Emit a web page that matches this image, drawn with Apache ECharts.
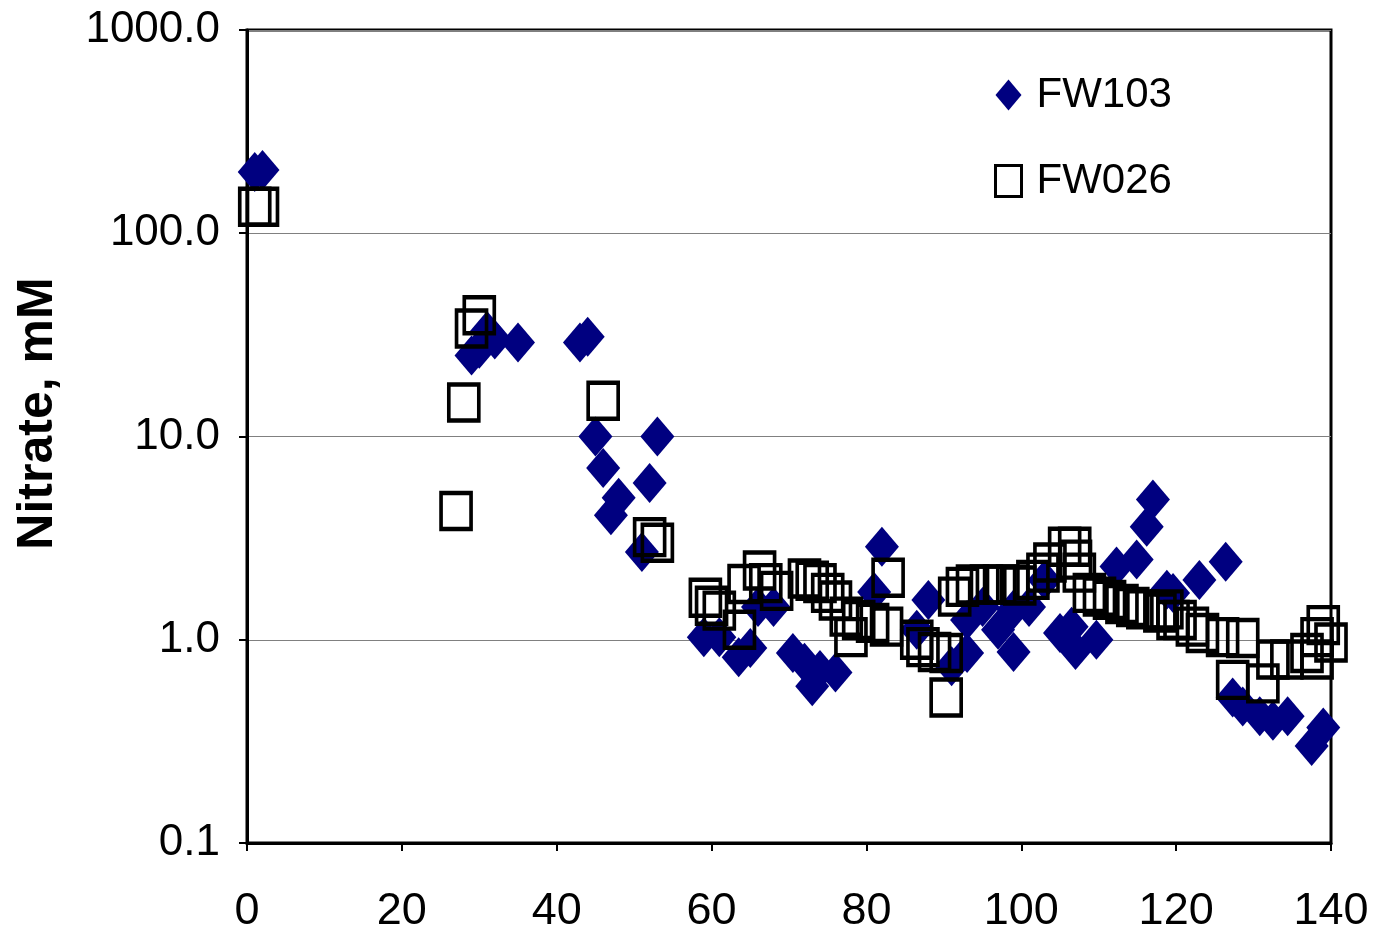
<!DOCTYPE html>
<html>
<head>
<meta charset="utf-8">
<script src="https://cdn.jsdelivr.net/npm/echarts@6/dist/echarts.min.js"></script>
<style>
html,body{margin:0;padding:0;background:#fff;}
#c{width:1378px;height:937px;}
</style>
</head>
<body>
<div id="c"></div>
<script>
// FW103 (filled diamonds)
const fw103X = [1,2,29,30,31,32,35,43,44,45,46,47,48,51,52,53,
  59,61,63.5,65,66,68,70.5,72,73,74,76,81,82,86.5,88,91,93,93,95,97,99,99,101,103,105,106.5,107,109.7,
  112.3,114.9,116.2,117,118.8,119.6,123,126.4,127.3,128.6,130.8,132.5,134.4,137.5,139];
const fw103Y = [200,205,25,27,33,30,29,29,31,10,7,4.1,5,2.7,5.9,10,
  1.03,1.03,0.82,0.91,1.45,1.45,0.86,0.77,0.59,0.71,0.69,1.72,2.87,1.12,1.57,0.74,0.86,1.25,1.45,1.12,0.87,1.41,1.45,1.97,1.08,1.16,0.89,1.0,
  2.29,2.48,3.6,4.9,1.76,1.7,1.97,2.42,0.52,0.47,0.42,0.40,0.42,0.30,0.37];
// FW026 (open squares)
const fw026X = [1,2,27,28,29,30,46,52,53,
  59.2,60,61,63.6,64.2,66.2,67,68.4,72,73,74,75,76,77.4,78,79,80.8,82.6,82.8,86.5,87.3,88.8,90.3,90.3,
  91.4,92.4,93.7,95.5,97.2,98.9,99.8,101.5,102.8,103.7,105.6,106.9,107,107.5,108.8,110.1,111.4,113,114.4,115.7,117.9,
  118.8,119.6,120.5,122.1,123.4,126,127.3,128.6,131.2,132.5,134.3,136.9,138.2,138.2,139,140];
const fw026Y = [135,135,4.3,14.7,34,39.5,15,3.2,3.0,
  1.61,1.47,1.39,1.12,1.88,2.19,1.9,1.74,2.0,1.95,1.9,1.7,1.56,1.3,1.03,1.25,1.21,1.16,2.02,1.0,0.92,0.87,0.86,0.52,
  1.63,1.82,1.87,1.87,1.87,1.87,1.85,1.97,2.14,2.4,2.87,2.87,2.48,2.14,1.7,1.63,1.57,1.5,1.45,1.41,1.36,
  1.41,1.25,1.25,1.16,1.08,1.03,0.635,1.02,0.61,0.8,0.8,0.86,0.8,1.03,1.18,0.97];
const xTicks = {min: 0, max: 140, interval: 20};
const yTicks = [0.1, 1, 10, 100, 1000];
const yTitle = 'Nitrate, mM';
const seriesNames = ['FW103', 'FW026'];

const pair = (xs, ys) => xs.map((x, i) => [x, ys[i]]);
const FONT = '"Liberation Sans", Arial, sans-serif';

const chart = echarts.init(document.getElementById('c'), null, {renderer: 'canvas'});
chart.setOption({
  animation: false,
  backgroundColor: '#fff',
  grid: {left: 247, right: 47, top: 30, bottom: 94, show: true, borderColor: '#000', borderWidth: 3, backgroundColor: 'transparent'},
  legend: {
    orient: 'vertical', left: 989, top: 68, itemWidth: 26, itemHeight: 31, itemGap: 42,
    textStyle: {fontFamily: FONT, fontSize: 42, color: '#000', lineHeight: 44, padding: [0, 0, 0, 10]},
    data: [
      {name: seriesNames[0], icon: 'diamond'},
      {name: seriesNames[1], icon: 'rect', itemStyle: {color: 'transparent', borderColor: '#000', borderWidth: 3}}
    ]
  },
  xAxis: {
    type: 'value', min: xTicks.min, max: xTicks.max, interval: xTicks.interval,
    axisLine: {show: true, lineStyle: {color: '#000', width: 3}},
    axisTick: {show: true, inside: false, length: 8, lineStyle: {color: '#000', width: 2}},
    axisLabel: {margin: 46, fontFamily: FONT, fontSize: 45, color: '#000'},
    splitLine: {show: false}
  },
  yAxis: {
    type: 'log', logBase: 10, min: yTicks[0], max: yTicks[yTicks.length - 1],
    name: yTitle, nameLocation: 'middle', nameGap: 184, nameRotate: 90,
    nameTextStyle: {fontFamily: FONT, fontSize: 50, fontWeight: 'bold', color: '#000', padding: [0, 0, 0, 46]},
    axisLine: {show: true, lineStyle: {color: '#000', width: 3}},
    axisTick: {show: true, inside: false, length: 8, lineStyle: {color: '#000', width: 2}},
    minorTick: {show: false},
    axisLabel: {margin: 27, fontFamily: FONT, fontSize: 44, color: '#000', formatter: v => Number(v).toFixed(1)},
    splitLine: {show: true, lineStyle: {color: '#808080', width: 1}}
  },
  series: [
    {
      name: seriesNames[0], type: 'scatter', symbol: 'diamond', symbolSize: [34, 40],
      itemStyle: {color: '#000080', opacity: 1},
      data: pair(fw103X, fw103Y), z: 2
    },
    {
      name: seriesNames[1], type: 'scatter', symbol: 'rect', symbolSize: [30, 36],
      itemStyle: {color: 'transparent', borderColor: '#000', borderWidth: 4, opacity: 1},
      data: pair(fw026X, fw026Y), z: 3
    }
  ]
});
</script>
</body>
</html>
